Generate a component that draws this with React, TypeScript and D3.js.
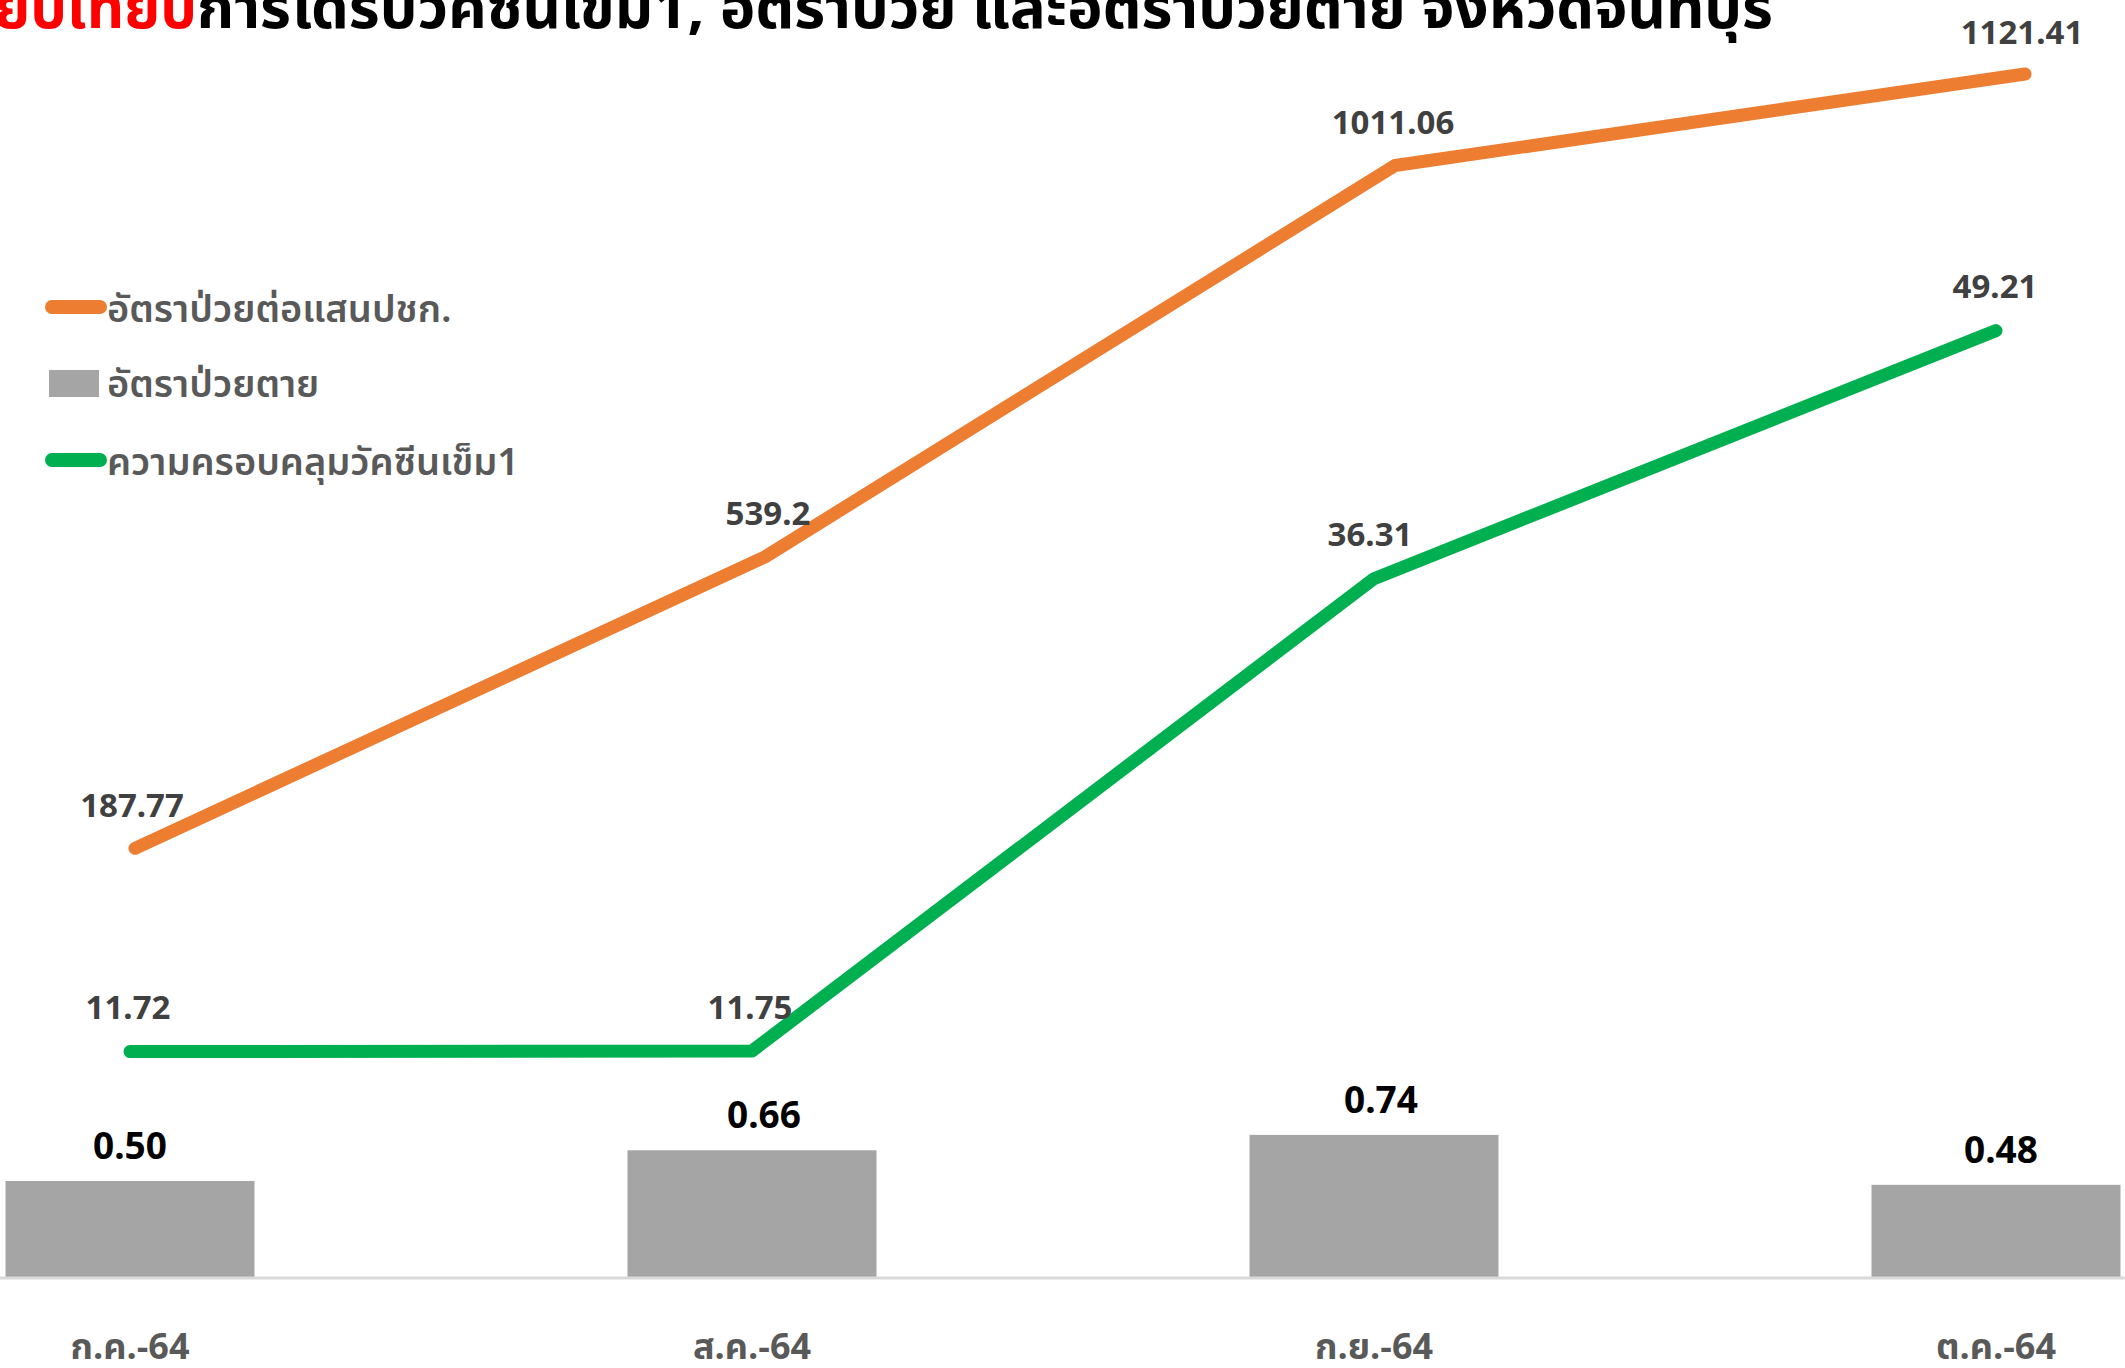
import React from "react";
import * as d3 from "d3";

const months = ["ก.ค.-64", "ส.ค.-64", "ก.ย.-64", "ต.ค.-64"];
const incidence = [187.77, 539.2, 1011.06, 1121.41];
const vaccine1 = [11.72, 11.75, 36.31, 49.21];
const fatality = [0.5, 0.66, 0.74, 0.48];
const fatalityLabels = ["0.50", "0.66", "0.74", "0.48"];
const seriesNames = ["อัตราป่วยต่อแสนปชก.", "อัตราป่วยตาย", "ความครอบคลุมวัคซีนเข็ม1"];
const titleRed = "เปรียบเทียบ";
const titleBlack = "การได้รับวัคซีนเข็ม1, อัตราป่วย และอัตราป่วยตาย จังหวัดจันทบุรี";

const W = 2125;
const H = 1368;
const ORANGE = "#ED7D31";
const GREEN = "#00B050";
const GRAY = "#A5A5A5";
const THAI = "'Noto Sans Thai', 'Noto Sans Thai UI', Loma, Garuda, Tahoma, 'Noto Sans', sans-serif";

export default function App() {
  React.useEffect(() => {
    document.body.style.margin = "0";
  }, []);

  const xMain = d3.scalePoint<string>().domain(months).range([130, 1996]);
  const xOrange = d3.scalePoint<string>().domain(months).range([135, 2025]);
  const yBar = d3.scaleLinear().domain([0, 6.65]).range([1277, 0]);
  const yGreen = d3.scaleLinear().domain([0, 66.4]).range([1277, 0]);
  const yOrange = d3.scaleLinear().domain([0, 1210.7]).range([1004, 0]);
  const barW = 249;

  const orangeLine = d3
    .line<number>()
    .x((_, i) => xOrange(months[i]) as number)
    .y((d) => yOrange(d));
  const greenLine = d3
    .line<number>()
    .x((_, i) => xMain(months[i]) as number)
    .y((d) => yGreen(d));

  const barLabelDx = [0, 12, 7, 5];

  return (
    <svg
      width={W}
      height={H}
      viewBox={`0 0 ${W} ${H}`}
      style={{ position: "absolute", left: 0, top: 0, display: "block", background: "#fff" }}
    >
      <rect x={0} y={0} width={W} height={H} fill="#fff" />

      {/* title (cut at top, as in the reference) */}
      <text
        x={197}
        y={28}
        fontFamily={THAI}
        fontWeight={700}
        fontSize={58}
        fill="#FF0000"
        textAnchor="end"
      >
        {titleRed}
      </text>
      <text
        x={197}
        y={28}
        fontFamily={THAI}
        fontWeight={700}
        fontSize={58}
        fill="#000"
        textLength={1576}
        lengthAdjust="spacingAndGlyphs"
      >
        {titleBlack}
      </text>

      {/* bars */}
      {fatality.map((v, i) => (
        <rect
          key={"b" + i}
          x={(xMain(months[i]) as number) - barW / 2}
          y={yBar(v)}
          width={barW}
          height={yBar(0) - yBar(v)}
          fill={GRAY}
        />
      ))}
      {/* axis line */}
      <line x1={0} x2={W} y1={yBar(0) + 1} y2={yBar(0) + 1} stroke="#D9D9D9" strokeWidth={3} />

      {/* bar labels */}
      {fatality.map((v, i) => (
        <text
          key={"bl" + i}
          x={(xMain(months[i]) as number) + barLabelDx[i]}
          y={yBar(v) - 35}
          dy="0.35em"
          textAnchor="middle"
          fontFamily="'Noto Sans', sans-serif"
          fontWeight={700}
          fontSize={37}
          fill="#000"
        >
          {fatalityLabels[i]}
        </text>
      ))}

      {/* lines */}
      <path
        d={orangeLine(incidence) || ""}
        fill="none"
        stroke={ORANGE}
        strokeWidth={13}
        strokeLinecap="round"
        strokeLinejoin="round"
      />
      <path
        d={greenLine(vaccine1) || ""}
        fill="none"
        stroke={GREEN}
        strokeWidth={13}
        strokeLinecap="round"
        strokeLinejoin="round"
      />

      {/* line labels */}
      {incidence.map((v, i) => {
        const dx = [-3, 3, -2, -3][i];
        const dyOff = [-43, -43, -43, -42][i];
        return (
          <text
            key={"ol" + i}
            x={(xOrange(months[i]) as number) + dx}
            y={yOrange(v) + dyOff}
            dy="0.35em"
            textAnchor="middle"
            fontFamily="'Noto Sans', sans-serif"
            fontWeight={700}
            fontSize={33}
            fill="#404040"
          >
            {v}
          </text>
        );
      })}
      {vaccine1.map((v, i) => {
        const dxs = [-2, -2, -4, -1][i];
        return (
          <text
            key={"gl" + i}
            x={(xMain(months[i]) as number) + dxs}
            y={yGreen(v) - 44}
            dy="0.35em"
            textAnchor="middle"
            fontFamily="'Noto Sans', sans-serif"
            fontWeight={700}
            fontSize={33}
            fill="#404040"
          >
            {v}
          </text>
        );
      })}

      {/* x labels */}
      {months.map((m) => (
        <text
          key={m}
          x={xMain(m) as number}
          y={1346}
          dy="0.35em"
          textAnchor="middle"
          fontFamily={THAI}
          fontWeight={700}
          fontSize={36}
          fill="#595959"
        >
          {m}
        </text>
      ))}

      {/* legend */}
      <g>
        <line x1={52} x2={100} y1={307} y2={307} stroke={ORANGE} strokeWidth={14} strokeLinecap="round" />
        <text x={107} y={309} dy="0.35em" fontFamily={THAI} fontWeight={600} fontSize={38} fill="#595959">
          {seriesNames[0]}
        </text>
        <rect x={49} y={370} width={50} height={27} fill={GRAY} />
        <text x={107} y={384} dy="0.35em" fontFamily={THAI} fontWeight={600} fontSize={38} fill="#595959">
          {seriesNames[1]}
        </text>
        <line x1={52} x2={100} y1={460} y2={460} stroke={GREEN} strokeWidth={14} strokeLinecap="round" />
        <text x={107} y={462} dy="0.35em" fontFamily={THAI} fontWeight={600} fontSize={38} fill="#595959">
          {seriesNames[2]}
        </text>
      </g>
    </svg>
  );
}
